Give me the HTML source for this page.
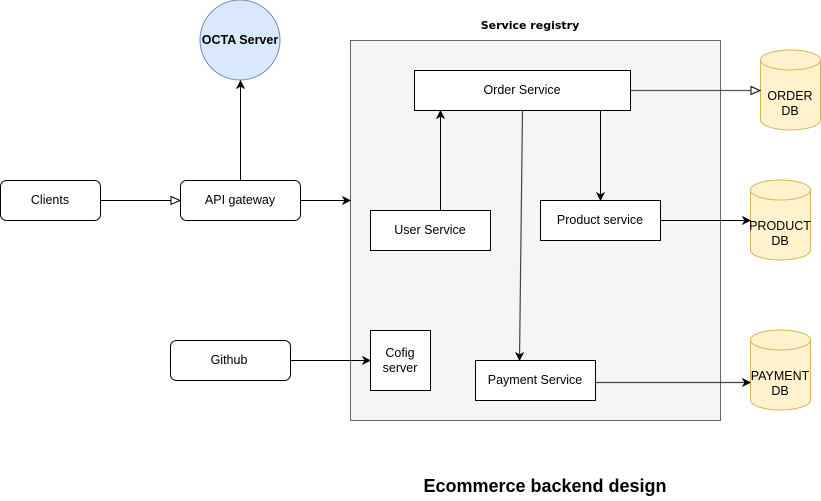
<!DOCTYPE html>
<html><head><meta charset="utf-8"><style>
html,body{margin:0;padding:0;background:#fff;}
svg{display:block;}
text{font-family:"Liberation Sans",Arial,sans-serif;font-size:12.5px;fill:#000;}
</style></head><body>
<svg width="821" height="501" viewBox="0 0 821 501" xmlns="http://www.w3.org/2000/svg">
<defs>
<marker id="a" markerWidth="10" markerHeight="10" refX="8" refY="5" orient="auto" markerUnits="userSpaceOnUse"><path d="M1,1.5 L8,5 L1,8.5 L3,5 Z" fill="#000" stroke="#000"/></marker>
<marker id="o" markerWidth="12" markerHeight="12" refX="10" refY="6" orient="auto" markerUnits="userSpaceOnUse"><path d="M1,2 L10,6 L1,10 Z" fill="#fff" stroke="#000"/></marker>
</defs>
<rect x="350.5" y="40.5" width="370" height="380" fill="#f5f5f5" stroke="#666"/>
<text x="530" y="29" text-anchor="middle" style="font-family:'DejaVu Sans',sans-serif;font-weight:bold;font-size:11px">Service registry</text>
<circle cx="240" cy="40" r="40" fill="#dae8fc" stroke="#6c8ebf"/>
<text x="240" y="44" text-anchor="middle" style="font-weight:bold">OCTA Server</text>
<rect x="0.5" y="180.5" width="100" height="40" rx="6" fill="#fff" stroke="#000"/>
<text x="50" y="204" text-anchor="middle">Clients</text>
<rect x="180.5" y="180.5" width="120" height="40" rx="6" fill="#fff" stroke="#000"/>
<text x="240" y="204" text-anchor="middle">API gateway</text>
<rect x="170.5" y="340.5" width="120" height="40" rx="6" fill="#fff" stroke="#000"/>
<text x="229" y="364" text-anchor="middle">Github</text>
<rect x="414.5" y="70.5" width="216" height="40" fill="#fff" stroke="#000"/>
<text x="522" y="94" text-anchor="middle">Order Service</text>
<rect x="370.5" y="210.5" width="120" height="40" fill="#fff" stroke="#000"/>
<text x="430" y="234" text-anchor="middle">User Service</text>
<rect x="540.5" y="200.5" width="120" height="40" fill="#fff" stroke="#000"/>
<text x="600" y="224" text-anchor="middle">Product service</text>
<rect x="370.5" y="330.5" width="60" height="60" fill="#fff" stroke="#000"/>
<text x="400" y="357" text-anchor="middle">Cofig</text>
<text x="400" y="372" text-anchor="middle">server</text>
<rect x="475.5" y="360.5" width="120" height="40" fill="#fff" stroke="#000"/>
<text x="535" y="384" text-anchor="middle">Payment Service</text>
<g fill="#fff2cc" stroke="#d6b656">
<path d="M760.5,60 a30,10 0 0 1 60,0 v60 a30,10 0 0 1 -60,0 Z"/><path d="M760.5,60 a30,10 0 0 0 60,0" fill="none"/>
<path d="M750.5,190 a30,10 0 0 1 60,0 v60 a30,10 0 0 1 -60,0 Z"/><path d="M750.5,190 a30,10 0 0 0 60,0" fill="none"/>
<path d="M750.5,340 a30,10 0 0 1 60,0 v60 a30,10 0 0 1 -60,0 Z"/><path d="M750.5,340 a30,10 0 0 0 60,0" fill="none"/>
</g>
<text x="790" y="100" text-anchor="middle">ORDER</text><text x="790" y="115" text-anchor="middle">DB</text>
<text x="780" y="230" text-anchor="middle">PRODUCT</text><text x="780" y="245" text-anchor="middle">DB</text>
<text x="780" y="380" text-anchor="middle">PAYMENT</text><text x="780" y="395" text-anchor="middle">DB</text>
<g fill="none" stroke="#000">
<line x1="100.5" y1="200.5" x2="180" y2="200.5" marker-end="url(#o)"/>
<line x1="240.5" y1="180" x2="240.5" y2="81" marker-end="url(#a)"/>
<line x1="300.5" y1="200.5" x2="350" y2="200.5" marker-end="url(#a)"/>
<line x1="290.5" y1="360.5" x2="370" y2="360.5" marker-end="url(#a)"/>
<line x1="440.5" y1="210" x2="440.5" y2="111" marker-end="url(#a)"/>
<line x1="600.5" y1="110" x2="600.5" y2="200" marker-end="url(#a)"/>
<line x1="522.5" y1="110" x2="519.5" y2="360" stroke="#444" stroke-width="1.2" marker-end="url(#a)"/>
<line x1="630.5" y1="90.5" x2="760" y2="90.5" stroke="#555" stroke-width="1.2" marker-end="url(#o)"/>
<line x1="660.5" y1="220.5" x2="750" y2="220.5" marker-end="url(#a)"/>
<line x1="595.5" y1="382.5" x2="750" y2="382.5" stroke="#444" stroke-width="1.2" marker-end="url(#a)"/>
</g>
<text x="545" y="492" text-anchor="middle" style="font-weight:bold;font-size:18px">Ecommerce backend design</text>
</svg>
</body></html>
